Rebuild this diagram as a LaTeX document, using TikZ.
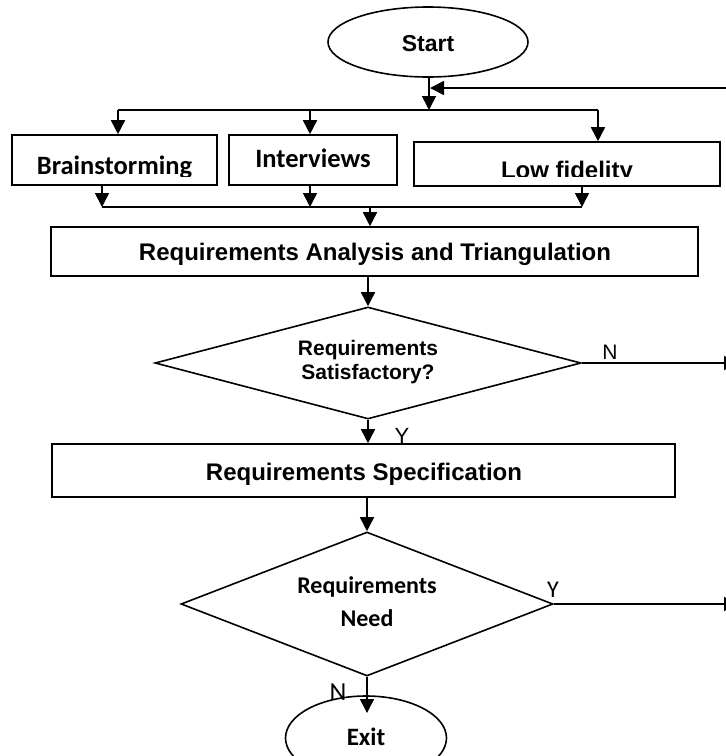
\documentclass[tikz,border=0pt]{standalone}
\usepackage{fontspec}
\setmainfont{Liberation Sans}
\newfontfamily\calfont{Carlito}
\usetikzlibrary{shapes.geometric,arrows.meta}

\tikzset{
  stroke/.style={line width=1.6pt},
  procbox/.style={draw,stroke,rectangle,inner sep=0pt},
  decision/.style={draw,stroke,diamond,inner sep=0pt,shape aspect=3.8},
  terminal/.style={draw,stroke,ellipse,inner sep=0pt},
  arr/.style={stroke,-{Triangle[length=14pt,width=14pt]}},
  line/.style={stroke},
  lab/.style={inner sep=0pt,anchor=base},
  arialb/.style={font=\fontsize{24}{28}\selectfont\bfseries},
  calb/.style={font=\calfont\fontsize{26.5}{30}\selectfont\bfseries},
}

\begin{document}
\begin{tikzpicture}[x=1pt,y=-1pt]
\useasboundingbox (0,0) rectangle (726,756);

% terminals
\node[terminal,minimum width=200pt,minimum height=70pt] (start) at (428,42) {};
\node[lab,font=\fontsize{23}{26}\selectfont\bfseries] (starttxt) at (428,51) {Start};

\node[terminal,minimum width=161pt,minimum height=84pt] (exit) at (366,738) {};
\node[lab,font=\calfont\fontsize{25}{28}\selectfont\bfseries] (exittxt) at (366,745) {Exit};

% elicitation boxes
\node[procbox,minimum width=205pt,minimum height=50pt] (brain) at (114.5,160) {};
\begin{scope}
  \clip (12,135) rectangle (217,176);
  \node[lab,calb] (braintxt) at (114.5,174) {Brainstorming};
\end{scope}

\node[procbox,minimum width=168pt,minimum height=50pt] (interv) at (313,160) {};
\node[lab,calb] (intervtxt) at (313,167) {Interviews};

\node[procbox,minimum width=306pt,minimum height=44pt] (lowfi) at (567,164) {};
\begin{scope}
  \clip (414,142) rectangle (720,176);
  \node[lab,arialb] (lowfitxt) at (567,178) {Low fidelity};
\end{scope}

% analysis and specification
\node[procbox,minimum width=647pt,minimum height=49pt] (ra) at (374.5,251.5) {};
\node[lab,arialb] (ratxt) at (375,260) {Requirements Analysis and Triangulation};

\node[procbox,minimum width=623pt,minimum height=53pt] (rs) at (363.5,470.5) {};
\node[lab,arialb] (rstxt) at (364,480) {Requirements Specification};

% decisions
\node[decision,minimum width=426pt,minimum height=112pt] (d1) at (368,363) {};
\node[lab,font=\fontsize{21}{24}\selectfont\bfseries] (d1a) at (368,355.5) {Requirements};
\node[lab,font=\fontsize{21}{24}\selectfont\bfseries] (d1b) at (368,379.5) {Satisfactory?};

\node[decision,minimum width=372pt,minimum height=144pt] (d2) at (367,604) {};
\node[lab,font=\calfont\fontsize{24}{28}\selectfont\bfseries] (d2a) at (367,593) {Requirements};
\node[lab,font=\calfont\fontsize{24}{28}\selectfont\bfseries] (d2b) at (367,626) {Need};

% junction points
\coordinate (split) at (429,110);
\coordinate (barL) at (118,110);
\coordinate (barR) at (598,110);
\coordinate (barI) at (310,110);
\coordinate (fbR) at (745,88);
\coordinate (fbT) at (430,88);
\coordinate (joinL) at (102,207);
\coordinate (joinI) at (310,207);
\coordinate (joinR) at (582,207);
\coordinate (joinM) at (370,207);
\coordinate (noOut) at (738,363);
\coordinate (yesOut) at (738,604);
\coordinate (exitIn) at (367,713);

% fan-out to elicitation
\draw[arr] (start.south -| split) -- (split);
\draw[arr] (fbR) -- (fbT);
\draw[line] (barL) -- (barR);
\draw[arr] (barL) -- (barL |- brain.north);
\draw[arr] (barI) -- (barI |- interv.north);
\draw[arr] (barR) -- (barR |- lowfi.north);

% fan-in to analysis
\draw[arr] (joinL |- brain.south) -- (joinL);
\draw[arr] (joinI |- interv.south) -- (joinI);
\draw[arr] (joinR |- lowfi.south) -- (joinR);
\draw[line] (joinL) -- (joinR);
\draw[arr] (joinM) -- (joinM |- ra.north);

% main flow
\draw[arr] (ra.south -| d1.north) -- (d1.north);
\draw[arr] (d1.east) -- (noOut);
\draw[arr] (d1.south) -- (d1.south |- rs.north);
\draw[arr] (rs.south -| d2.north) -- (d2.north);
\draw[arr] (d2.east) -- (yesOut);
\draw[arr] (d2.south) -- (exitIn);

% branch labels
\node[lab,font=\fontsize{21}{24}\selectfont] (n1) at (610,359) {N};
\node[lab,font=\fontsize{22}{24}\selectfont] (y1) at (402,443) {Y};
\node[lab,font=\calfont\fontsize{24}{26}\selectfont] (y2) at (553,597) {Y};
\node[lab,font=\calfont\fontsize{26}{28}\selectfont] (n2) at (338,700) {N};
\end{tikzpicture}
\end{document}
